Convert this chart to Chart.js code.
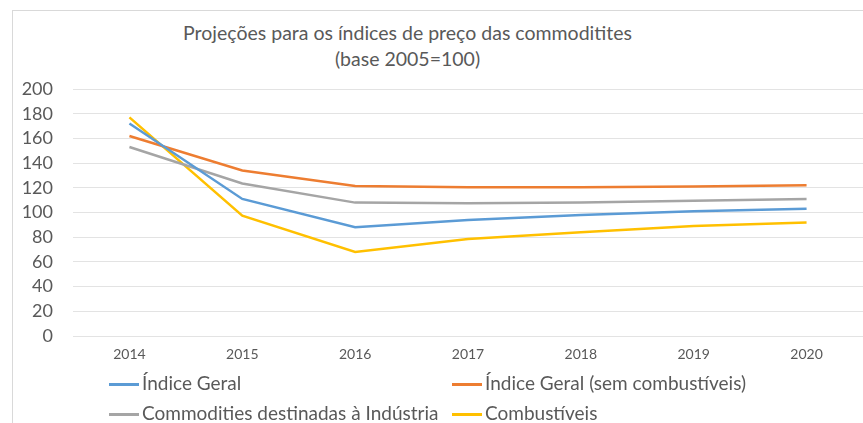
<!DOCTYPE html>
<html lang="pt">
<head>
<meta charset="utf-8">
<script src="https://cdn.jsdelivr.net/npm/chart.js@4"></script>
<style>
  html, body { margin: 0; padding: 0; background: #fff; }
  body { width: 863px; height: 423px; position: relative; overflow: hidden; font-family: Lato, sans-serif; }
  #frame { position: absolute; left: 12px; top: 10px; right: -2px; bottom: -2px; border-left: 1px solid #d9d9d9; border-top: 1px solid #d9d9d9; }
  #wrap { position: absolute; left: 0; top: 0; width: 863px; height: 423px; }
  #title { position: absolute; left: 0; width: 815px; top: 20px; text-align: center; color: #595959; font-size: 19.5px; line-height: 26px; }
  .leg { position: absolute; color: #595959; font-size: 19px; line-height: 20px; white-space: nowrap; }
  .leg i { display: inline-block; width: 30px; height: 3px; vertical-align: middle; margin-right: 3px; position: relative; top: -1px; }
</style>
</head>
<body>
<div id="frame"></div>
<div id="title">Projeções para os índices de preço das commoditites<br>(base 2005=100)</div>
<div id="wrap"><canvas id="myChart" width="863" height="423"></canvas></div>
<div id="legend"></div>
<script>
const years = ["2014", "2015", "2016", "2017", "2018", "2019", "2020"];
const indiceGeral = [172, 111, 88, 94, 98, 101, 103];
const semCombustiveis = [162, 134, 121.5, 120.5, 120.5, 121, 122];
const industria = [153, 123.5, 108, 107.5, 108, 109.5, 111];
const combustiveis = [177, 97.5, 68, 78.5, 84, 89, 92];

const seriesNames = [
  "Índice Geral",
  "Índice Geral (sem combustíveis)",
  "Commodities destinadas à Indústria",
  "Combustíveis",
];
const seriesColors = ["#5b9bd5", "#ed7d31", "#a5a5a5", "#ffc000"];
const seriesData = [indiceGeral, semCombustiveis, industria, combustiveis];

// legend in two columns, like the Excel one
const legendPos = [
  [109, 373],
  [452, 373],
  [109, 403],
  [452, 403],
];
const legend = document.getElementById("legend");
seriesNames.forEach((name, i) => {
  const d = document.createElement("div");
  d.className = "leg";
  d.style.left = legendPos[i][0] + "px";
  d.style.top = legendPos[i][1] + "px";
  d.innerHTML = '<i style="background:' + seriesColors[i] + '"></i>' + name;
  legend.appendChild(d);
});

let ctx = document.getElementById("myChart").getContext("2d");

Chart.defaults.font.family = "Lato";
Chart.defaults.color = "#595959";

new Chart(ctx, {
  type: "line",
  data: {
    labels: years,
    datasets: seriesData.map((values, i) => ({
      label: seriesNames[i],
      data: values,
      borderColor: seriesColors[i],
      backgroundColor: seriesColors[i],
      borderWidth: 2.5,
      pointRadius: 0,
      tension: 0,
      fill: false,
    })),
  },
  options: {
    responsive: false,
    animation: false,
    layout: {
      padding: { left: 13, right: 0, top: 89, bottom: 47 },
    },
    plugins: {
      legend: { display: false },
      title: { display: false },
      tooltip: { enabled: false },
    },
    scales: {
      x: {
        offset: true,
        grid: { display: false },
        border: { display: false },
        ticks: { font: { size: 14 }, padding: 2, color: "#595959" },
        afterFit: (s) => { s.height = 40; },
      },
      y: {
        min: 0,
        max: 200,
        ticks: { stepSize: 20, autoSkip: false, font: { size: 18 }, padding: 20, color: "#595959" },
        grid: { color: "#e3e3e3", lineWidth: 1, drawTicks: false },
        border: { display: false },
        afterFit: (s) => { s.width = 60; },
      },
    },
  },
});
</script>
</body>
</html>
